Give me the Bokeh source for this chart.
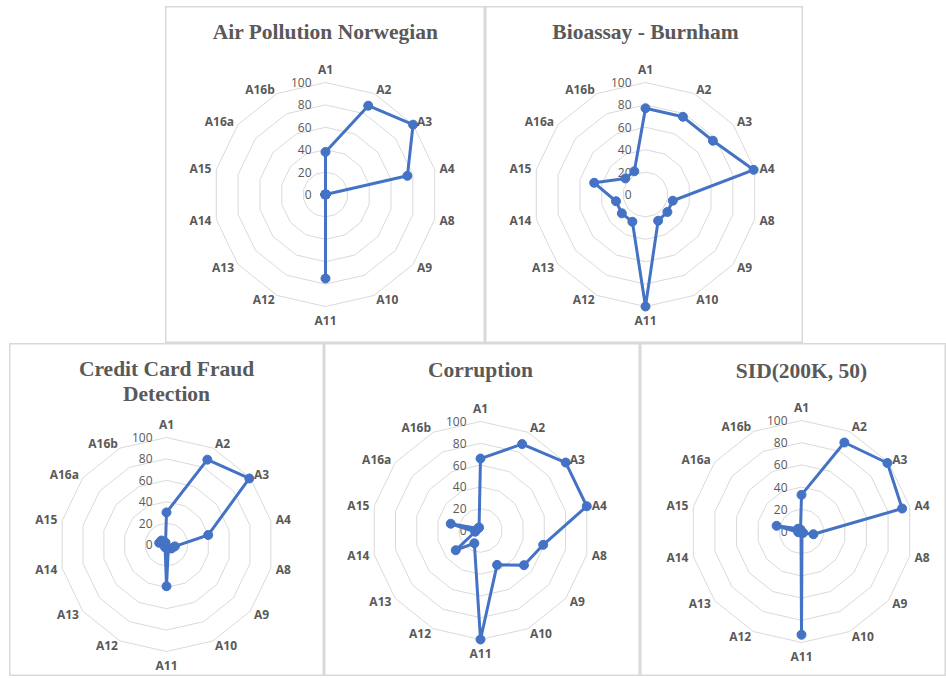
import math
from bokeh.plotting import figure
from bokeh.layouts import column, row
from bokeh.models import Spacer, Range1d
from bokeh.core.properties import value
from bokeh.embed import file_html
from bokeh.resources import INLINE

# ---------------- data ----------------
categories = ["A1", "A2", "A3", "A4", "A8", "A9", "A10", "A11",
              "A12", "A13", "A14", "A15", "A16a", "A16b"]
ring_levels = [20, 40, 60, 80, 100]
tick_values = [0, 20, 40, 60, 80, 100]
tick_labels = ["0", "20", "40", "60", "80", "100"]

air_pollution = [38, 88, 100, 75, 0, 0, 0, 75, 0, 0, 0, 0, 0, 0]
bioassay = [77, 77, 77, 99, 25, 25, 26, 100, 27, 27, 27, 47, 23, 23]
credit_card = [30, 88, 99, 40, 8, 6, 4, 39, 3, 2, 2, 7, 6, 2]
corruption = [66, 88, 100, 100, 59, 51, 35, 100, 13, 29, 5, 28, 3, 3]
sid = [33, 89, 99, 93, 11, 2, 1, 93, 1, 1, 3, 23, 4, 2]

titles = {
    "air": ["Air Pollution Norwegian"],
    "bio": ["Bioassay - Burnham"],
    "credit": ["Credit Card Fraud", "Detection"],
    "corr": ["Corruption"],
    "sid": ["SID(200K, 50)"],
}

# ---------------- style ----------------
GRID = "#d9d9d9"
TXT = "#595959"
BLUE = "#4472C4"


def radar(title_lines, vals, width, height, cx, cy, R, title_y):
    s = 100.0 / R  # data units per pixel
    p = figure(width=width, height=height, output_backend="svg",
               toolbar_location=None, x_axis_location=None, y_axis_location=None,
               x_range=Range1d(-cx * s, (width - cx) * s),
               y_range=Range1d(-(height - cy) * s, cy * s),
               min_border=0)
    p.grid.visible = False
    p.outline_line_color = GRID
    p.outline_line_width = 2
    p.background_fill_color = "white"
    p.border_fill_color = "white"

    n = len(categories)
    ang = [2 * math.pi * i / n for i in range(n)]

    for lvl in ring_levels:
        xs = [lvl * math.sin(a) for a in ang] + [0.0]
        ys = [lvl * math.cos(a) for a in ang] + [lvl]
        p.line(xs, ys, line_color=GRID, line_width=1)

    # radial value labels along A1
    p.text(x=[-14 * s] * len(tick_values), y=tick_values, text=tick_labels,
           text_font=value("Open Sans"), text_font_size="12px", text_color=TXT,
           text_align="right", text_baseline="middle")

    # data polygon
    xs = [v * math.sin(a) for v, a in zip(vals, ang)]
    ys = [v * math.cos(a) for v, a in zip(vals, ang)]
    p.line(xs + [xs[0]], ys + [ys[0]], line_color=BLUE, line_width=3,
           line_join="round")
    p.scatter(xs, ys, size=9, fill_color=BLUE, line_color=BLUE)

    # category labels
    rad = 100 + 5 * s
    for c, a in zip(categories, ang):
        sa, ca = math.sin(a), math.cos(a)
        if sa > 0.1:
            al, bl = "left", "middle"
        elif sa < -0.1:
            al, bl = "right", "middle"
        else:
            al = "center"
            bl = "bottom" if ca > 0 else "top"
        p.text(x=[rad * sa], y=[rad * ca], text=[c],
               text_font=value("Open Sans"), text_font_style="bold",
               text_font_size="12px", text_color=TXT,
               text_align=al, text_baseline=bl)

    # title
    for i, t in enumerate(title_lines):
        ty = (cy - title_y - 25 * i) * s
        p.text(x=[0], y=[ty], text=[t],
               text_font=value("Liberation Serif"), text_font_style="bold",
               text_font_size="21.5px", text_color=TXT,
               text_align="center", text_baseline="middle")
    return p


p1 = radar(titles["air"], air_pollution, 320, 337, 160, 188, 112, 25)
p2 = radar(titles["bio"], bioassay, 318, 337, 160, 188, 112, 25)
p3 = radar(titles["credit"], credit_card, 315, 333, 157, 201, 107, 25)
p4 = radar(titles["corr"], corruption, 316, 333, 156, 187, 109, 26)
p5 = radar(titles["sid"], sid, 306, 333, 161, 188, 111, 27)

layout = column(Spacer(width=10, height=6),
                row(Spacer(width=165, height=337), p1, p2),
                row(Spacer(width=9, height=333), p3, p4, p5))

open("out.html", "w").write(file_html(layout, INLINE))
